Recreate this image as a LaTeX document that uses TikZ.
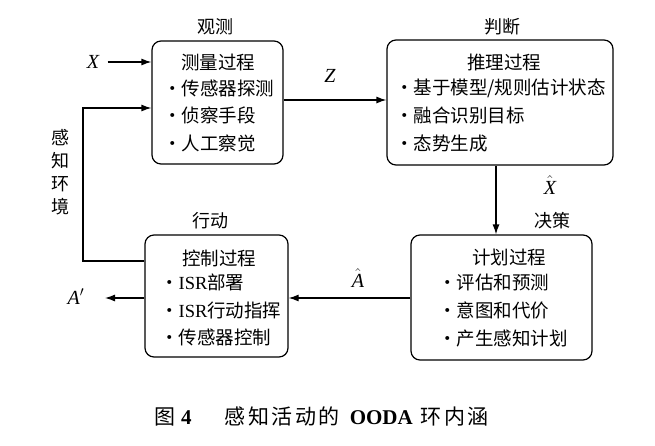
\RequirePackage{fix-cm}
\documentclass[tikz,border=0pt]{standalone}
\usepackage{fontspec}
\newfontfamily\cjk{Noto Sans CJK SC}
\newfontfamily\capcjk[LetterSpace=12]{Noto Sans CJK SC}
\newfontfamily\lat{Liberation Serif}
\newcommand\isr{{\lat ISR}}
\newcommand\var[1]{\mbox{\lat\itshape #1}}
\usetikzlibrary{arrows.meta,positioning,calc}

\begin{document}
\begin{tikzpicture}[
    x=1pt, y=-1pt,
    >={Latex[length=10pt,width=7pt]},
    box/.style={draw, line width=1.2pt, rounded corners=9pt},
    head/.style={font=\cjk\fontsize{18}{22}\selectfont},
    title/.style={font=\cjk\fontsize{18.5}{22}\selectfont},
    item/.style={anchor=west, inner sep=0pt, font=\cjk\fontsize{18.5}{22}\selectfont},
    sym/.style={font=\fontsize{20}{24}\selectfont},
    arr/.style={->, line width=1.2pt}
]
    \useasboundingbox (0,0) rectangle (655,445);

    % the four stages
    \node[box, minimum width=131pt, minimum height=123pt] (obs) at (217.5,102.5) {};
    \node[box, minimum width=226pt, minimum height=125pt] (jud) at (500,102.5) {};
    \node[box, minimum width=143pt, minimum height=122pt] (act) at (216.5,296) {};
    \node[box, minimum width=181pt, minimum height=125pt] (plan) at (501.5,297.5) {};

    \node[head] (hobs) at (215,27) {观测};
    \node[head] (hjud) at (502,27) {判断};
    \node[head] (hact) at (210,221) {行动};
    \node[head] (hplan) at (552,221) {决策};

    \node[title] (tobs) at (218,62) {测量过程};
    \node[title] (tjud) at (504,62) {推理过程};
    \node[title] (tact) at (219,258) {控制过程};
    \node[title] (tplan) at (509,257) {计划过程};

    \foreach \t [count=\i] in {传感器探测,侦察手段,人工察觉} {
        \node[item] (o\i) at (163,60.5+\i*27.5) {·\t};
    }
    \foreach \t [count=\i] in {基于模型/规则估计状态,融合识别目标,态势生成} {
        \node[item] (j\i) at (395,60.5+\i*27.5) {·\t};
    }
    \foreach \t [count=\i] in {\isr{}部署,\isr{}行动指挥,传感器控制} {
        \node[item] (a\i) at (160,255+\i*27.5) {·\t};
    }
    \foreach \t [count=\i] in {评估和预测,意图和代价,产生感知计划} {
        \node[item] (p\i) at (438,254.5+\i*28) {·\t};
    }

    % signals
    \node[sym] (xin) at (93,62) {$\var{X}$};
    \draw[arr, shorten <=5pt] (xin.east) -- (obs.west |- xin);

    \coordinate (zrow) at (330,100);
    \node[sym] (z) at (330,76) {$\var{Z}$};
    \draw[arr] (obs.east |- zrow) -- (jud.west |- zrow);

    \coordinate (xcol) at (496,200);
    \node[sym] (xh) at (550,185) {$\hat{\var{X}}$};
    \draw[arr] (jud.south -| xcol) -- (plan.north -| xcol);

    \coordinate (arow) at (350,298);
    \node[sym] (ah) at (358,278) {$\hat{\var{A}}$};
    \draw[arr] (plan.west |- arow) -- (act.east |- arow);

    \coordinate (aend) at (105,298);
    \node[sym] (aout) at (76,297) {$\var{A}'$};
    \draw[arr] (act.west |- aend) -- (aend);

    % feedback through the environment
    \coordinate (fbl) at (83,261);
    \coordinate (fbt) at (83,108);
    \draw[arr] (act.west |- fbl) -- (fbl) -- (fbt) -- (obs.west |- fbt);
    \node[head, align=center, font=\cjk\fontsize{18}{23}\selectfont] (env) at (60,172) {感\\知\\环\\境};

    \node[anchor=west, inner sep=0pt, font=\capcjk\fontsize{21}{24}\selectfont] (cap) at (154,416)
        {图\hspace{6pt}{\lat\bfseries 4}\hspace{33pt}感知活动的\hspace{10pt}{\lat\bfseries OODA}\hspace{8pt}环内涵};
\end{tikzpicture}
\end{document}
